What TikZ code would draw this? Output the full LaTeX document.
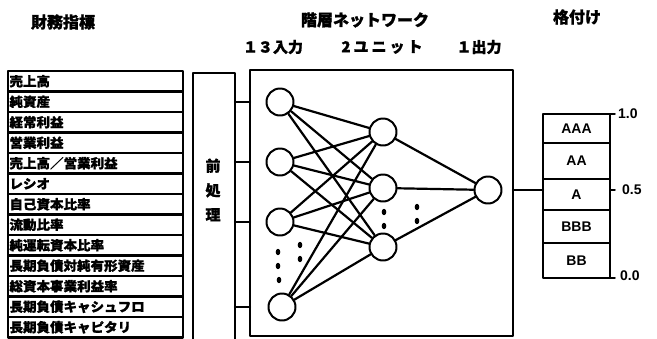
\documentclass[tikz,border=0pt]{standalone}
\usepackage{fontspec}
\newfontfamily\jp{Noto Sans CJK JP}[BoldFeatures={FakeBold=1.2}]
\newfontfamily\jpwide{Noto Sans CJK JP}[FakeStretch=1.04,BoldFeatures={FakeBold=1.2}]
\newfontfamily\jpsp{Noto Sans CJK JP}[LetterSpace=20,BoldFeatures={FakeBold=1.2}]
\newfontfamily\lat{Liberation Sans}
\usetikzlibrary{positioning}

\tikzset{
  listrow/.style={draw,line width=2.4pt,outer sep=0pt,minimum width=175pt,minimum height=20.5pt,
    text width=172pt,inner xsep=1.5pt,inner ysep=0pt,align=left,font=\jpwide\bfseries\fontsize{13}{13}\selectfont},
  frame/.style={draw,line width=2.4pt,outer sep=0pt,inner sep=0pt},
  neuron/.style={draw,circle,line width=2pt,minimum size=27pt,inner sep=0pt},
  edge/.style={line width=2.2pt},
  rank/.style={draw,line width=2.2pt,outer sep=0pt,minimum width=67pt,inner sep=0pt,
    font=\lat\bfseries\fontsize{14}{14}\selectfont},
  title/.style={font=\jp\bfseries\fontsize{16}{16}\selectfont},
  layerlbl/.style={font=\jp\bfseries\fontsize{15}{15}\selectfont},
  scalelbl/.style={font=\lat\bfseries\fontsize{14}{14}\selectfont,inner sep=0pt},
}

\begin{document}
\begin{tikzpicture}[x=1pt,y=-1pt,line join=round,line cap=round]
	\useasboundingbox (0,0) rectangle (657,338);
	% headings
	\node[title] (fin) at (63,22) {財務指標};
	\node[title] (hier) at (365,20) {階層ネットワーク};
	\node[title] (grade) at (577,17) {格付け};
	\node[layerlbl] (nin) at (273,47) {１３入力};
	\node[layerlbl,font=\jpsp\bfseries\fontsize{15}{15}\selectfont] (nhid) at (382,47) {2ユニット};
	\node[layerlbl] (nout) at (479,47) {１出力};
	% financial indicators
	\node[listrow,anchor=north west] (r1) at (8,71) {売上高};
	\node[listrow,below=0pt of r1] (r2) {純資産};
	\node[listrow,below=0pt of r2] (r3) {経常利益};
	\node[listrow,below=0pt of r3] (r4) {営業利益};
	\node[listrow,below=0pt of r4] (r5) {売上高／営業利益};
	\node[listrow,below=0pt of r5] (r6) {レシオ};
	\node[listrow,below=0pt of r6] (r7) {自己資本比率};
	\node[listrow,below=0pt of r7] (r8) {流動比率};
	\node[listrow,below=0pt of r8] (r9) {純運転資本比率};
	\node[listrow,below=0pt of r9] (r10) {長期負債対純有形資産};
	\node[listrow,below=0pt of r10] (r11) {総資本事業利益率};
	\node[listrow,below=0pt of r11] (r12) {長期負債キャシュフロ};
	\node[listrow,below=0pt of r12] (r13) {長期負債キャピタリ};
	% preprocessing
	\node[frame,minimum width=42pt,minimum height=280pt,anchor=north west] (pre) at (193,73) {};
	\node[title,font=\jp\bfseries\fontsize{15}{24.5}\selectfont,align=center] (pretxt) at (213,190) {前\\処\\理};
	% network
	\node[frame,minimum width=263pt,minimum height=266pt,anchor=north west] (net) at (250,70) {};
	\node[neuron] (i1) at (280,102) {};
	\node[neuron] (i2) at (280,162) {};
	\node[neuron] (i3) at (280,222) {};
	\node[neuron] (i4) at (282,307) {};
	\node[neuron] (h1) at (383,132) {};
	\node[neuron] (h2) at (383,188) {};
	\node[neuron] (h3) at (383,247) {};
	\node[neuron] (o) at (488,190) {};
	\foreach \a in {i1,i2,i3,i4}
		\foreach \b in {h1,h2,h3}
			\draw[edge] (\a) -- (\b);
	\foreach \b in {h1,h2,h3}
		\draw[edge] (\b) -- (o);
	\foreach \a in {i1,i2,i3,i4}
		\draw[edge] (pre.east |- \a) -- (net.west |- \a);
	\fill (278,252) ellipse (2.3 and 3.2) (278,266) ellipse (2.3 and 3.2) (279,280) ellipse (2.3 and 3.2);
	\fill (300,245) ellipse (2.3 and 3.2) (300,259) ellipse (2.3 and 3.2);
	\fill (384,212) ellipse (2.3 and 3.2) (384,226) ellipse (2.3 and 3.2);
	\fill (417,207) ellipse (2.3 and 3.2) (417,221) ellipse (2.3 and 3.2);
	% ratings
	\node[rank,minimum height=29pt,anchor=north west] (rAAA) at (543,114) {AAA};
	\node[rank,minimum height=36pt,below=0pt of rAAA] (rAA) {AA};
	\node[rank,minimum height=31pt,below=0pt of rAA] (rA) {A};
	\node[rank,minimum height=33pt,below=0pt of rA] (rBBB) {BBB};
	\node[rank,minimum height=35pt,below=0pt of rBBB] (rBB) {BB};
	\draw[edge] (net.east |- o) -- (rA.west |- o);
	\draw[line width=1.5pt] (rAAA.north east) -- ++(5,0) coordinate (t1);
	\draw[line width=1.5pt] (rA.east |- o) -- ++(5,0) coordinate (t2);
	\draw[line width=1.5pt] (rBB.south east) -- ++(5,0) coordinate (t3);
	\node[scalelbl,right=3pt of t1] (s1) {1.0};
	\node[scalelbl,right=7pt of t2] (s2) {0.5};
	\node[scalelbl,right=5pt of t3,yshift=2pt] (s3) {0.0};
\end{tikzpicture}
\end{document}
